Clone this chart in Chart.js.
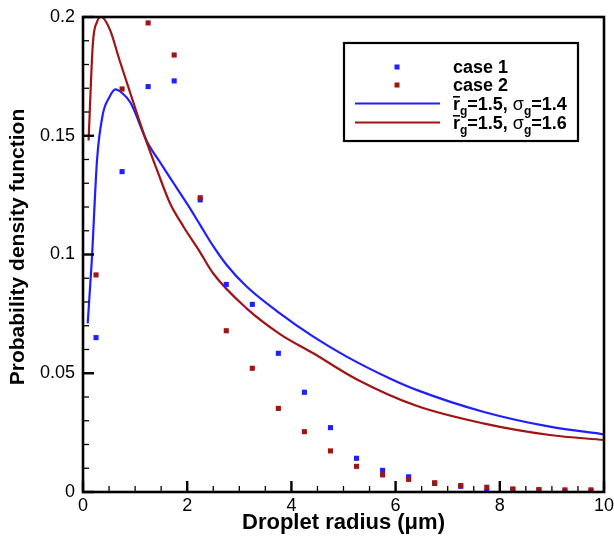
<!DOCTYPE html>
<html lang="en">
<head>
<meta charset="utf-8"/>
<title>Droplet radius PDF</title>
<script src="https://cdn.jsdelivr.net/npm/chart.js"></script>
<style>
  body { margin: 0; background: #fff; }
  #wrap { width: 614px; height: 539px; }
</style>
</head>
<body>
<div id="wrap"><canvas id="pdfChart" width="614" height="539"></canvas></div>
<script>
// binned data (bin centres)
const radiusBins = [0.25, 0.75, 1.25, 1.75, 2.25, 2.75, 3.25, 3.75, 4.25, 4.75,
                    5.25, 5.75, 6.25, 6.75, 7.25, 7.75, 8.25, 8.75, 9.25, 9.75];
const case1Pdf = [0.065, 0.1349, 0.1707, 0.1731, 0.123, 0.0874, 0.079, 0.0584, 0.042, 0.0271,
                  0.0142, 0.0091, 0.0064, 0.0036, 0.0024, 0.0003, 0.001, 0.0008, 0.0003, 0.0003];
const case2Pdf = [0.0914, 0.1697, 0.1975, 0.184, 0.1239, 0.0679, 0.0521, 0.0352, 0.0254, 0.0173,
                  0.0108, 0.0072, 0.0053, 0.0039, 0.0027, 0.002, 0.0013, 0.001, 0.0009, 0.0009];

// fitted curves
const fit14X = [0.09, 0.17, 0.27, 0.38, 0.5, 0.62, 0.75, 0.91, 1.23, 1.5, 1.74, 1.87, 2.0, 2.25, 2.5, 2.75,
                3.14, 3.78, 4.42, 5.06, 5.89, 6.4, 7.68, 8.96, 10];
const fit14Y = [0.071, 0.098, 0.14, 0.159, 0.166, 0.1695, 0.168, 0.164, 0.1475, 0.1381, 0.13, 0.1256, 0.1213, 0.1124, 0.1035, 0.0958,
                0.0865, 0.0752, 0.0654, 0.057, 0.0478, 0.043, 0.0338, 0.0275, 0.0243];
const fit16X = [0.107, 0.19, 0.27, 0.35, 0.52, 0.7, 1.035, 1.23, 1.42, 1.67, 1.93, 2.24, 2.5,
                3.14, 3.78, 4.42, 5.25, 6.4, 7.68, 8.96, 10];
const fit16Y = [0.148, 0.189, 0.198, 0.2, 0.1945, 0.1819, 0.1594, 0.1468, 0.1356, 0.1216, 0.1117, 0.1012, 0.092,
                0.0773, 0.0665, 0.0584, 0.0475, 0.0363, 0.0289, 0.024, 0.0219];

const xTickLabels = ['0', '2', '4', '6', '8', '10'];
const yTickLabels = ['0', '0.05', '0.1', '0.15', '0.2'];
const caseLabels = ['case 1', 'case 2'];
const fitRg = ['1.5', '1.5'];
const fitSigma = ['1.4', '1.6'];

const BLUE = '#1f1fff';
const RED = '#a01414';
const FONT = '"Liberation Sans", Arial, sans-serif';

const pts = (xs, ys) => xs.map((x, i) => ({x: x, y: ys[i]}));

// overline r, subscripts g, drawn piece by piece
function drawFitLabel(ctx, x, y, rg, sg) {
  const big = 'bold 18px ' + FONT, sub = 'bold 12px ' + FONT, sym = '18px ' + FONT;
  let cx = x;
  ctx.font = big;
  ctx.fillText('r', cx, y);
  const rw = ctx.measureText('r').width;
  ctx.fillRect(cx, y - 14, rw, 1.6);
  cx += rw;
  ctx.font = sub; ctx.fillText('g', cx, y + 5); cx += ctx.measureText('g').width;
  ctx.font = big; const t1 = '=' + rg + ', '; ctx.fillText(t1, cx, y); cx += ctx.measureText(t1).width;
  ctx.font = sym; ctx.fillText('σ', cx, y); cx += ctx.measureText('σ').width;
  ctx.font = sub; ctx.fillText('g', cx, y + 5); cx += ctx.measureText('g').width;
  ctx.font = big; ctx.fillText('=' + sg, cx, y);
}

const framePlugin = {
  id: 'frameAndTicks',
  afterDatasetsDraw(chart) {
    const {ctx, chartArea: a, scales: {x, y}} = chart;
    ctx.save();
    ctx.strokeStyle = '#000';
    // inner tick marks
    for (let k = 0; k <= 20; k++) {
      const px = x.getPixelForValue(k * 0.5);
      const major = k % 4 === 0;
      ctx.lineWidth = major ? 2.4 : 1.3;
      ctx.beginPath();
      ctx.moveTo(px, a.bottom);
      ctx.lineTo(px, a.bottom - (major ? 11 : 6));
      ctx.stroke();
    }
    for (let k = 0; k <= 20; k++) {
      const py = y.getPixelForValue(k * 0.01);
      const major = k % 5 === 0;
      ctx.lineWidth = major ? 2.4 : 1.3;
      ctx.beginPath();
      ctx.moveTo(a.left, py);
      ctx.lineTo(a.left + (major ? 11 : 6), py);
      ctx.stroke();
    }
    ctx.lineWidth = 2.6;
    ctx.strokeRect(a.left, a.top, a.right - a.left, a.bottom - a.top);

    // axis titles
    ctx.fillStyle = '#000';
    ctx.textAlign = 'center';
    ctx.textBaseline = 'middle';
    ctx.font = 'bold 22px ' + FONT;
    ctx.fillText('Droplet radius (μm)', (a.left + a.right) / 2, 523);
    ctx.save();
    ctx.translate(18, 247);
    ctx.rotate(-Math.PI / 2);
    ctx.font = 'bold 21px ' + FONT;
    ctx.fillText('Probability density function', 0, 0);
    ctx.restore();

    // legend box
    ctx.fillStyle = '#fff';
    ctx.fillRect(344, 43, 234, 98);
    ctx.lineWidth = 2.2;
    ctx.strokeRect(344, 43, 234, 98);
    ctx.textAlign = 'left';
    ctx.textBaseline = 'alphabetic';
    ctx.fillStyle = BLUE; ctx.fillRect(394.5, 64.5, 5, 5);
    ctx.fillStyle = RED; ctx.fillRect(394.5, 82.5, 5, 5);
    ctx.lineWidth = 2.2;
    ctx.strokeStyle = BLUE; ctx.beginPath(); ctx.moveTo(355, 103.5); ctx.lineTo(440, 103.5); ctx.stroke();
    ctx.strokeStyle = RED; ctx.beginPath(); ctx.moveTo(355, 122.5); ctx.lineTo(440, 122.5); ctx.stroke();
    ctx.fillStyle = '#000';
    ctx.font = 'bold 18px ' + FONT;
    ctx.fillText(caseLabels[0], 453, 73);
    ctx.fillText(caseLabels[1], 453, 91);
    drawFitLabel(ctx, 453, 110, fitRg[0], fitSigma[0]);
    drawFitLabel(ctx, 453, 129, fitRg[1], fitSigma[1]);
    ctx.restore();
  }
};

const ctx = document.getElementById('pdfChart').getContext('2d');
const pdfChart = new Chart(ctx, {
  type: 'scatter',
  data: {
    datasets: [
      {
        label: caseLabels[1],
        data: pts(radiusBins, case2Pdf),
        backgroundColor: RED,
        borderWidth: 0,
        pointStyle: 'rect',
        pointRadius: 3.6,
        order: 0
      },
      {
        label: caseLabels[0],
        data: pts(radiusBins, case1Pdf),
        backgroundColor: BLUE,
        borderWidth: 0,
        pointStyle: 'rect',
        pointRadius: 3.6,
        order: 1
      },
      {
        label: 'fit 1.6',
        data: pts(fit16X, fit16Y),
        showLine: true,
        borderColor: RED,
        borderWidth: 2.2,
        pointRadius: 0,
        cubicInterpolationMode: 'monotone',
        order: 2
      },
      {
        label: 'fit 1.4',
        data: pts(fit14X, fit14Y),
        showLine: true,
        borderColor: BLUE,
        borderWidth: 2.2,
        pointRadius: 0,
        cubicInterpolationMode: 'monotone',
        order: 3
      }
    ]
  },
  options: {
    responsive: false,
    animation: false,
    layout: { padding: { left: 0, top: 17, right: 10, bottom: 0 } },
    plugins: { legend: { display: false }, tooltip: { enabled: false } },
    scales: {
      x: {
        type: 'linear',
        min: 0,
        max: 10,
        grid: { display: false, drawTicks: false },
        border: { display: false },
        ticks: {
          stepSize: 2,
          padding: 3,
          color: '#000',
          font: { family: FONT, size: 18 },
          callback: (v, i) => xTickLabels[i]
        },
        afterFit: (s) => { s.height = 47; s.paddingLeft = 0; s.paddingRight = 0; }
      },
      y: {
        min: 0,
        max: 0.2,
        grid: { display: false, drawTicks: false },
        border: { display: false },
        ticks: {
          stepSize: 0.05,
          padding: 8,
          color: '#000',
          font: { family: FONT, size: 18 },
          callback: (v, i) => yTickLabels[i]
        },
        afterFit: (s) => { s.width = 83; s.paddingTop = 0; s.paddingBottom = 0; }
      }
    }
  },
  plugins: [framePlugin]
});
</script>
</body>
</html>
